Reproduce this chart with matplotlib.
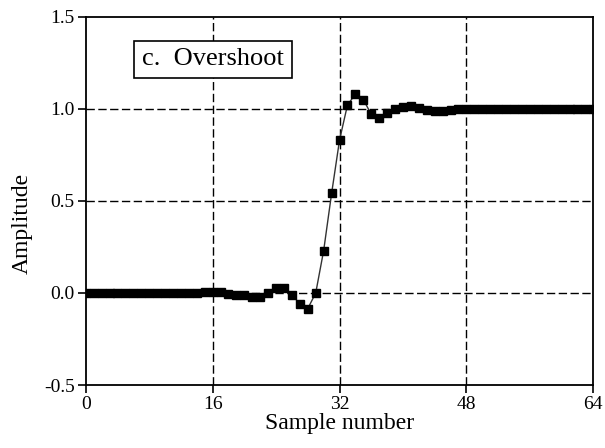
import matplotlib
matplotlib.use("Agg")
import matplotlib.pyplot as plt

# step response with overshoot
samples = list(range(65))
amplitude = ([0.0] * 15 +
             [0.005, 0.005, 0.005, -0.005, -0.01, -0.01, -0.02, -0.02, 0.0,
              0.025, 0.025, -0.01, -0.06, -0.085, 0.0, 0.23, 0.54, 0.83,
              1.02, 1.08, 1.05, 0.97, 0.95, 0.975, 1.0, 1.01, 1.015, 1.005,
              0.995, 0.99, 0.99, 0.995] +
             [1.0] * 18)
x_ticks = [0, 16, 32, 48, 64]
y_ticks = [-0.5, 0.0, 0.5, 1.0, 1.5]
y_labels = ["-0.5", "0.0", "0.5", "1.0", "1.5"]

plt.rcParams['font.family'] = ['Liberation Serif', 'DejaVu Serif']

fig = plt.figure(figsize=(6.05, 4.48), dpi=100)
ax = fig.add_axes([0.1417, 0.1406, 0.8390, 0.8221])

ax.plot(samples, amplitude, color='#333333', linewidth=1.0, marker='s',
        markersize=6, markerfacecolor='black', markeredgecolor='black', zorder=3)

ax.set_xlim(0, 64)
ax.set_ylim(-0.5, 1.5)
ax.set_xticks(x_ticks)
ax.set_yticks(y_ticks)
ax.set_yticklabels(y_labels)
ax.tick_params(direction='out', length=6, width=1.2, labelsize=14, colors='black', pad=2)

for v in x_ticks[1:-1]:
    ax.axvline(v, color='black', linewidth=1.0, dashes=(6, 2.5), zorder=1)
for v in y_ticks[1:-1]:
    ax.axhline(v, color='black', linewidth=1.0, dashes=(6, 2.5), zorder=1)

for s in ax.spines.values():
    s.set_linewidth(1.3)

ax.set_xlabel('Sample number', fontsize=17, labelpad=0)
ax.set_ylabel('Amplitude', fontsize=17)
ax.yaxis.set_label_coords(-0.105, 0.44)

ax.text(0.251, 0.884, 'c.  Overshoot', transform=ax.transAxes, fontsize=19,
        ha='center', va='center', zorder=5,
        bbox=dict(boxstyle='square,pad=0.3', facecolor='white',
                  edgecolor='black', linewidth=1.2))

fig.savefig('out.png', dpi=100)
